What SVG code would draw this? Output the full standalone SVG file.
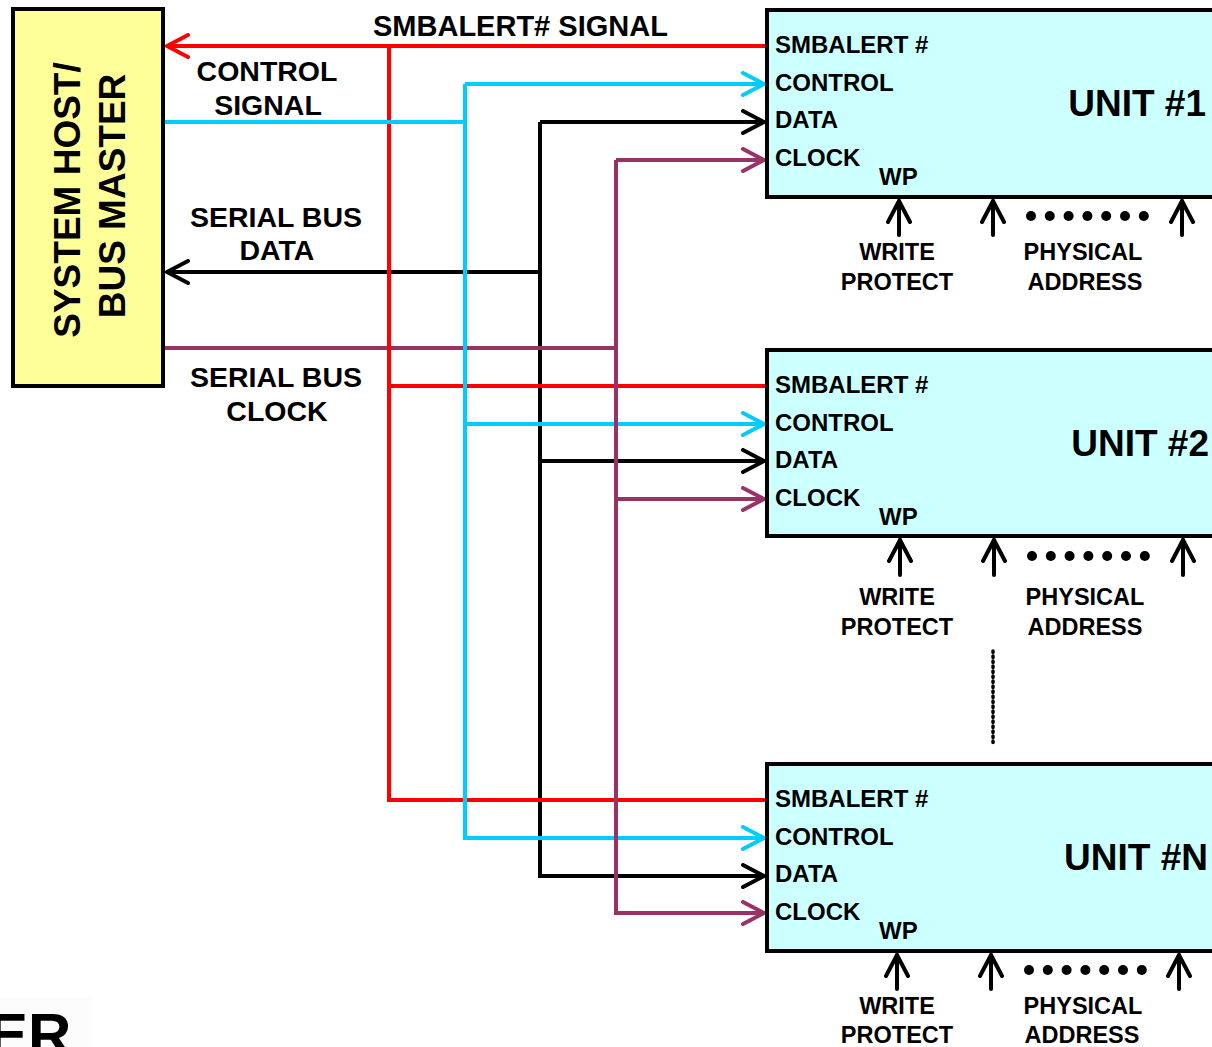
<svg xmlns="http://www.w3.org/2000/svg" width="1212" height="1047" viewBox="0 0 1212 1047">
<style>
text{font-family:"Liberation Sans",Arial,sans-serif;font-weight:bold;fill:#000}
.lbl{font-size:28.5px;text-anchor:middle}
.pin{font-size:24px}
.sub{font-size:23.5px;text-anchor:middle}
.unit{font-size:37px;text-anchor:end}
.box{fill:#CCFFFF;stroke:#000;stroke-width:4}
.host{fill:#FFFF99;stroke:#000;stroke-width:4}
.w{fill:none;stroke-width:4}
.r{stroke:#FF0000}.c{stroke:#00CCFF}.k{stroke:#000}.p{stroke:#993366}
.up{fill:none;stroke:#000;stroke-width:4;stroke-linecap:round;stroke-linejoin:round}
</style>
<defs>
<marker id="ar" markerUnits="userSpaceOnUse" viewBox="0 0 26 26" refX="23" refY="13" markerWidth="26" markerHeight="26" orient="auto"><path d="M2,2 L23,13 L2,24" fill="none" stroke="#FF0000" stroke-width="4" stroke-linecap="round" stroke-linejoin="round"/></marker>
<marker id="ac" markerUnits="userSpaceOnUse" viewBox="0 0 26 26" refX="23" refY="13" markerWidth="26" markerHeight="26" orient="auto"><path d="M2,2 L23,13 L2,24" fill="none" stroke="#00CCFF" stroke-width="4" stroke-linecap="round" stroke-linejoin="round"/></marker>
<marker id="ak" markerUnits="userSpaceOnUse" viewBox="0 0 26 26" refX="23" refY="13" markerWidth="26" markerHeight="26" orient="auto"><path d="M2,2 L23,13 L2,24" fill="none" stroke="#000" stroke-width="4" stroke-linecap="round" stroke-linejoin="round"/></marker>
<marker id="ap" markerUnits="userSpaceOnUse" viewBox="0 0 26 26" refX="23" refY="13" markerWidth="26" markerHeight="26" orient="auto"><path d="M2,2 L23,13 L2,24" fill="none" stroke="#993366" stroke-width="4" stroke-linecap="round" stroke-linejoin="round"/></marker>
<marker id="au" markerUnits="userSpaceOnUse" viewBox="0 0 26 26" refX="23" refY="13" markerWidth="26" markerHeight="26" orient="auto"><path d="M2,2 L23,13 L2,24" fill="none" stroke="#000" stroke-width="4" stroke-linecap="round" stroke-linejoin="round"/></marker>
<g id="dots"><circle cx="0" cy="0" r="5"/><circle cx="18.8" cy="0" r="5"/><circle cx="37.6" cy="0" r="5"/><circle cx="56.4" cy="0" r="5"/><circle cx="75.2" cy="0" r="5"/><circle cx="94" cy="0" r="5"/><circle cx="112.8" cy="0" r="5"/></g>
</defs>
<rect x="0" y="997" width="90" height="50" fill="#FCFCFC"/>
<text x="-12" y="1055" style="font-size:60px;font-weight:900" fill="#111">ER</text>

<g id="host">
<rect class="host" x="13" y="9" width="150" height="377"/>
<text transform="translate(80,200) rotate(-90)" style="font-size:37px;text-anchor:middle">SYSTEM HOST/</text>
<text transform="translate(125,196) rotate(-90)" style="font-size:37px;text-anchor:middle">BUS MASTER</text>
</g>

<g id="connectors">
<path class="w k" d="M540,272 H167" marker-end="url(#ak)"/>
<path class="w k" d="M540,122 V876 H764" marker-end="url(#ak)"/>
<path class="w k" d="M540,122 H764" marker-end="url(#ak)"/>
<path class="w k" d="M540,461 H764" marker-end="url(#ak)"/>
<path class="w p" d="M165,348 H616"/>
<path class="w r" d="M766,46 H167" marker-end="url(#ar)"/>
<path class="w r" d="M389,46 V800 H766"/>
<path class="w r" d="M389,386 H766"/>
<path class="w c" d="M165,122 H465"/>
<path class="w c" d="M465,84 V838 H764" marker-end="url(#ac)"/>
<path class="w c" d="M465,84 H764" marker-end="url(#ac)"/>
<path class="w c" d="M465,424 H764" marker-end="url(#ac)"/>
<path class="w p" d="M616,160 V913 H764" marker-end="url(#ap)"/>
<path class="w p" d="M616,160 H764" marker-end="url(#ap)"/>
<path class="w p" d="M616,499 H764" marker-end="url(#ap)"/>
<path d="M993,651 V745" fill="none" stroke="#000" stroke-width="3.5" stroke-dasharray="1.5,3.5" stroke-linecap="round"/>
</g>

<g id="signal-labels">
<text x="373" y="36" style="font-size:29px">SMBALERT# SIGNAL</text>
<text class="lbl" x="267" y="81">CONTROL</text>
<text class="lbl" x="268" y="115">SIGNAL</text>
<text class="lbl" x="276" y="227">SERIAL BUS</text>
<text class="lbl" x="277" y="260">DATA</text>
<text class="lbl" x="276" y="387">SERIAL BUS</text>
<text class="lbl" x="277" y="421">CLOCK</text>
</g>

<g id="unit1">
<rect class="box" x="767" y="10" width="460" height="187"/>
<text class="pin" x="775" y="53">SMBALERT #</text>
<text class="pin" x="775" y="91">CONTROL</text>
<text class="pin" x="775" y="128">DATA</text>
<text class="pin" x="775" y="166">CLOCK</text>
<text class="pin" x="879" y="185">WP</text>
<text class="unit" x="1206" y="116">UNIT #1</text>
<path class="up" d="M899,235 V201" marker-end="url(#au)"/>
<path class="up" d="M993,235 V201" marker-end="url(#au)"/>
<path class="up" d="M1182,235 V201" marker-end="url(#au)"/>
<use href="#dots" x="1031" y="216"/>
<text class="sub" x="897" y="260">WRITE</text>
<text class="sub" x="897" y="290">PROTECT</text>
<text class="sub" x="1083" y="260">PHYSICAL</text>
<text class="sub" x="1085" y="290">ADDRESS</text>
</g>

<g id="unit2">
<rect class="box" x="767" y="350" width="460" height="186"/>
<text class="pin" x="775" y="393">SMBALERT #</text>
<text class="pin" x="775" y="431">CONTROL</text>
<text class="pin" x="775" y="468">DATA</text>
<text class="pin" x="775" y="506">CLOCK</text>
<text class="pin" x="879" y="525">WP</text>
<text class="unit" x="1209" y="456">UNIT #2</text>
<path class="up" d="M900,575 V540" marker-end="url(#au)"/>
<path class="up" d="M994,575 V540" marker-end="url(#au)"/>
<path class="up" d="M1183,575 V540" marker-end="url(#au)"/>
<use href="#dots" x="1032" y="556"/>
<text class="sub" x="897" y="605">WRITE</text>
<text class="sub" x="897" y="635">PROTECT</text>
<text class="sub" x="1085" y="605">PHYSICAL</text>
<text class="sub" x="1085" y="635">ADDRESS</text>
</g>

<g id="unitN">
<rect class="box" x="767" y="764" width="460" height="187"/>
<text class="pin" x="775" y="807">SMBALERT #</text>
<text class="pin" x="775" y="845">CONTROL</text>
<text class="pin" x="775" y="882">DATA</text>
<text class="pin" x="775" y="920">CLOCK</text>
<text class="pin" x="879" y="939">WP</text>
<text class="unit" x="1208" y="870">UNIT #N</text>
<path class="up" d="M897,989 V955" marker-end="url(#au)"/>
<path class="up" d="M991,989 V955" marker-end="url(#au)"/>
<path class="up" d="M1179,989 V955" marker-end="url(#au)"/>
<use href="#dots" x="1029" y="970"/>
<text class="sub" x="897" y="1014">WRITE</text>
<text class="sub" x="897" y="1043">PROTECT</text>
<text class="sub" x="1083" y="1014">PHYSICAL</text>
<text class="sub" x="1082" y="1043">ADDRESS</text>
</g>
</svg>
